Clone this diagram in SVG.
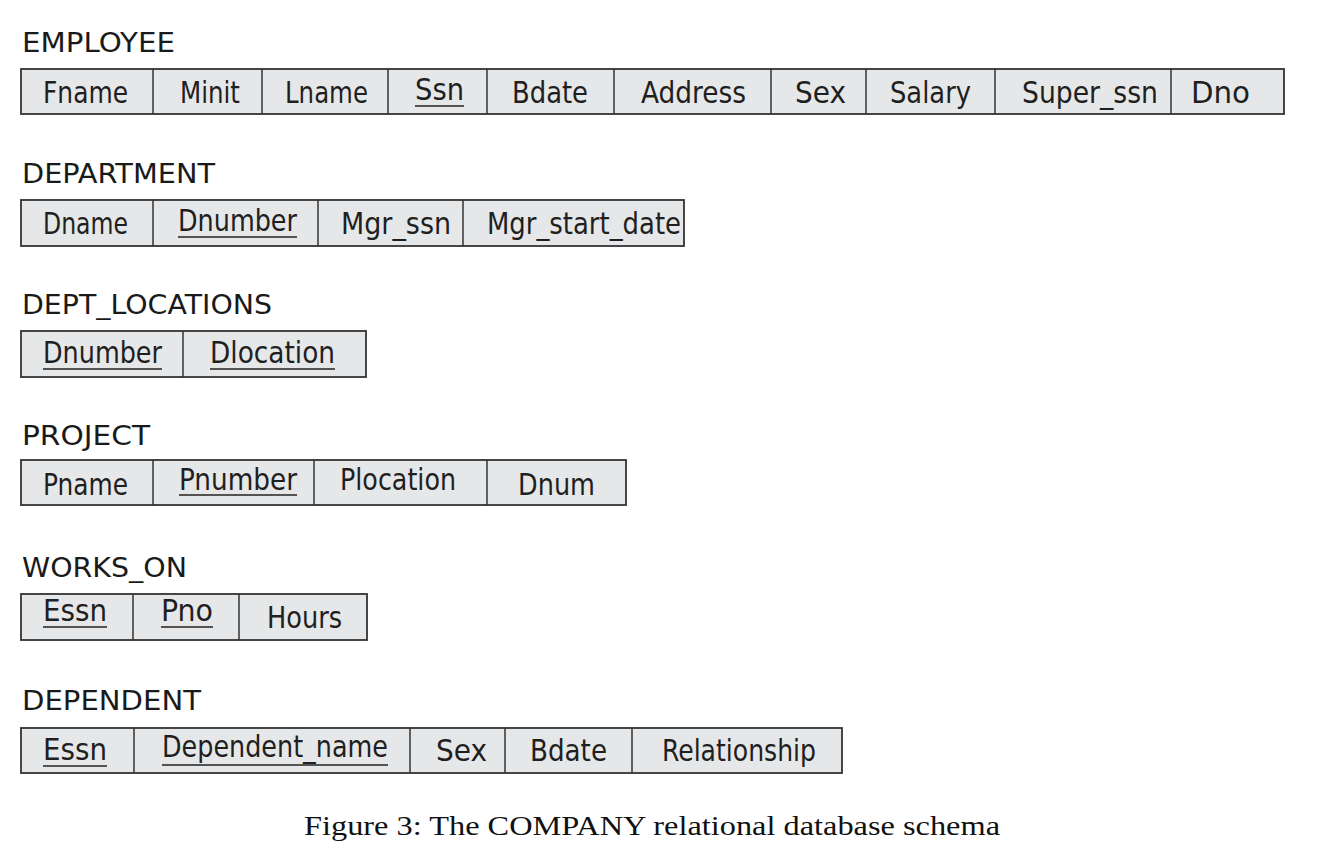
<svg xmlns="http://www.w3.org/2000/svg" width="1342" height="866" viewBox="0 0 1342 866">
<style>
.bg{fill:#ffffff}
.cell{fill:#e6e7e8;stroke:#333333;stroke-width:1.8}
.div{stroke:#333333;stroke-width:1.5}
.ul{stroke:#222222;stroke-width:1.6}
.lbl{font-family:"DejaVu Sans","Liberation Sans",sans-serif;font-size:26px;fill:#1a1a1a}
.t{font-family:"Liberation Sans Narrow","DejaVu Sans Condensed","Liberation Sans",sans-serif;font-size:31px;fill:#1f1f1f}
.cap{font-family:"Liberation Serif","DejaVu Serif",serif;font-size:28px;fill:#111111}
</style>
<rect class="bg" x="0" y="0" width="1342" height="866"/>

<g id="employee">
<text class="lbl" x="22" y="52" textLength="153" lengthAdjust="spacingAndGlyphs">EMPLOYEE</text>
<rect class="cell" x="21" y="69" width="1263" height="45"/>
<line class="div" x1="153" y1="69" x2="153" y2="114"/>
<line class="div" x1="262" y1="69" x2="262" y2="114"/>
<line class="div" x1="388" y1="69" x2="388" y2="114"/>
<line class="div" x1="487" y1="69" x2="487" y2="114"/>
<line class="div" x1="614" y1="69" x2="614" y2="114"/>
<line class="div" x1="771" y1="69" x2="771" y2="114"/>
<line class="div" x1="866" y1="69" x2="866" y2="114"/>
<line class="div" x1="995" y1="69" x2="995" y2="114"/>
<line class="div" x1="1171" y1="69" x2="1171" y2="114"/>
<text class="t" x="43" y="103" textLength="85" lengthAdjust="spacingAndGlyphs">Fname</text>
<text class="t" x="180" y="103" textLength="60" lengthAdjust="spacingAndGlyphs">Minit</text>
<text class="t" x="285" y="103" textLength="83" lengthAdjust="spacingAndGlyphs">Lname</text>
<text class="t" x="415" y="100" textLength="49" lengthAdjust="spacingAndGlyphs">Ssn</text>
<line class="ul" x1="415" y1="106" x2="464" y2="106"/>
<text class="t" x="512" y="103" textLength="76" lengthAdjust="spacingAndGlyphs">Bdate</text>
<text class="t" x="641" y="103" textLength="105" lengthAdjust="spacingAndGlyphs">Address</text>
<text class="t" x="795" y="103" textLength="51" lengthAdjust="spacingAndGlyphs">Sex</text>
<text class="t" x="890" y="103" textLength="81" lengthAdjust="spacingAndGlyphs">Salary</text>
<text class="t" x="1022" y="103" textLength="136" lengthAdjust="spacingAndGlyphs">Super_ssn</text>
<text class="t" x="1191" y="103" textLength="59" lengthAdjust="spacingAndGlyphs">Dno</text>
</g>

<g id="department">
<text class="lbl" x="22" y="183" textLength="193" lengthAdjust="spacingAndGlyphs">DEPARTMENT</text>
<rect class="cell" x="21" y="200" width="663" height="46"/>
<line class="div" x1="153" y1="200" x2="153" y2="246"/>
<line class="div" x1="318" y1="200" x2="318" y2="246"/>
<line class="div" x1="463" y1="200" x2="463" y2="246"/>
<text class="t" x="43" y="234" textLength="85" lengthAdjust="spacingAndGlyphs">Dname</text>
<text class="t" x="178" y="231" textLength="119" lengthAdjust="spacingAndGlyphs">Dnumber</text>
<line class="ul" x1="178" y1="237" x2="297" y2="237"/>
<text class="t" x="341" y="234" textLength="110" lengthAdjust="spacingAndGlyphs">Mgr_ssn</text>
<text class="t" x="487" y="234" textLength="194" lengthAdjust="spacingAndGlyphs">Mgr_start_date</text>
</g>

<g id="dept_locations">
<text class="lbl" x="22" y="314" textLength="250" lengthAdjust="spacingAndGlyphs">DEPT_LOCATIONS</text>
<rect class="cell" x="21" y="331" width="345" height="46"/>
<line class="div" x1="183" y1="331" x2="183" y2="377"/>
<text class="t" x="43" y="363" textLength="119" lengthAdjust="spacingAndGlyphs">Dnumber</text>
<line class="ul" x1="43" y1="369" x2="162" y2="369"/>
<text class="t" x="210" y="363" textLength="125" lengthAdjust="spacingAndGlyphs">Dlocation</text>
<line class="ul" x1="210" y1="369" x2="335" y2="369"/>
</g>

<g id="project">
<text class="lbl" x="22" y="445" textLength="128" lengthAdjust="spacingAndGlyphs">PROJECT</text>
<rect class="cell" x="21" y="460" width="605" height="45"/>
<line class="div" x1="153" y1="460" x2="153" y2="505"/>
<line class="div" x1="314" y1="460" x2="314" y2="505"/>
<line class="div" x1="487" y1="460" x2="487" y2="505"/>
<text class="t" x="43" y="495" textLength="85" lengthAdjust="spacingAndGlyphs">Pname</text>
<text class="t" x="179" y="490" textLength="118" lengthAdjust="spacingAndGlyphs">Pnumber</text>
<line class="ul" x1="179" y1="495" x2="297" y2="495"/>
<text class="t" x="340" y="490" textLength="116" lengthAdjust="spacingAndGlyphs">Plocation</text>
<text class="t" x="518" y="495" textLength="77" lengthAdjust="spacingAndGlyphs">Dnum</text>
</g>

<g id="works_on">
<text class="lbl" x="22" y="577" textLength="165" lengthAdjust="spacingAndGlyphs">WORKS_ON</text>
<rect class="cell" x="21" y="594" width="346" height="46"/>
<line class="div" x1="133" y1="594" x2="133" y2="640"/>
<line class="div" x1="239" y1="594" x2="239" y2="640"/>
<text class="t" x="43" y="621" textLength="64" lengthAdjust="spacingAndGlyphs">Essn</text>
<line class="ul" x1="43" y1="627" x2="107" y2="627"/>
<text class="t" x="161" y="621" textLength="52" lengthAdjust="spacingAndGlyphs">Pno</text>
<line class="ul" x1="161" y1="627" x2="213" y2="627"/>
<text class="t" x="267" y="628" textLength="75" lengthAdjust="spacingAndGlyphs">Hours</text>
</g>

<g id="dependent">
<text class="lbl" x="22" y="710" textLength="179" lengthAdjust="spacingAndGlyphs">DEPENDENT</text>
<rect class="cell" x="21" y="728" width="821" height="45"/>
<line class="div" x1="134" y1="728" x2="134" y2="773"/>
<line class="div" x1="410" y1="728" x2="410" y2="773"/>
<line class="div" x1="505" y1="728" x2="505" y2="773"/>
<line class="div" x1="632" y1="728" x2="632" y2="773"/>
<text class="t" x="43" y="760" textLength="64" lengthAdjust="spacingAndGlyphs">Essn</text>
<line class="ul" x1="43" y1="766" x2="107" y2="766"/>
<text class="t" x="162" y="757" textLength="226" lengthAdjust="spacingAndGlyphs">Dependent_name</text>
<line class="ul" x1="162" y1="765" x2="388" y2="765"/>
<text class="t" x="436" y="761" textLength="51" lengthAdjust="spacingAndGlyphs">Sex</text>
<text class="t" x="530" y="761" textLength="77" lengthAdjust="spacingAndGlyphs">Bdate</text>
<text class="t" x="662" y="761" textLength="154" lengthAdjust="spacingAndGlyphs">Relationship</text>
</g>

<g id="connectors"></g>

<text class="cap" x="304" y="835" textLength="696" lengthAdjust="spacingAndGlyphs">Figure 3: The COMPANY relational database schema</text>
</svg>
